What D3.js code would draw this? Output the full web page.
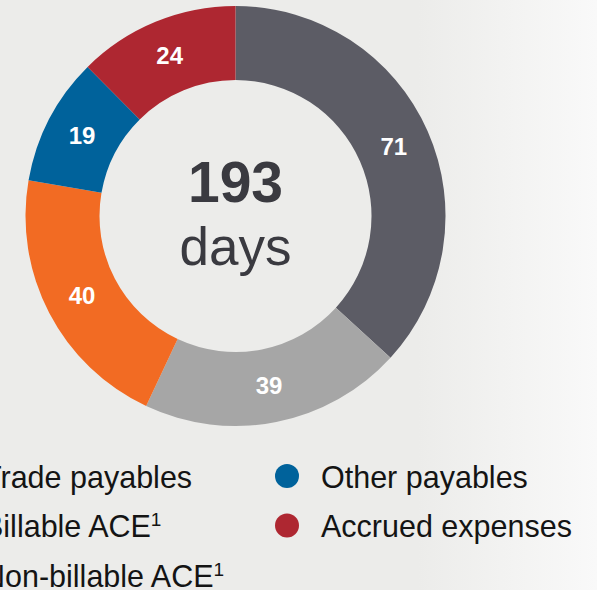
<!DOCTYPE html>
<html>
<head>
<meta charset="utf-8">
<script src="https://cdn.jsdelivr.net/npm/d3@7"></script>
<style>
  html, body { margin: 0; padding: 0; overflow: hidden; }
  svg { display: block; font-family: "Liberation Sans", Arial, sans-serif; }
</style>
</head>
<body>
<div id="chart"></div>
<script>
// data, clockwise from 12 o'clock
const categories = ['Trade payables', 'Billable ACE', 'Non-billable ACE', 'Other payables', 'Accrued expenses']
const days = [71, 39, 40, 19, 24]
const colors = ['#5c5c65', '#a6a6a6', '#f26b23', '#00629b', '#ae2731']
const footnote = [false, true, true, false, false]
const totalLabel = 'days'

const width = 597, height = 590
const cx = 235.5, cy = 216
const outerR = 210, innerR = 136

let svg = d3.select('#chart')
            .append('svg')
            .attr('width', width)
            .attr('height', height)

// soft background, a bit lighter to the right
let grad = svg.append('defs').append('linearGradient')
    .attr('id', 'bg')
    .attr('x1', '0').attr('x2', '1').attr('y1', '0').attr('y2', '0')
grad.append('stop').attr('offset', '0.7').attr('stop-color', '#ececea')
grad.append('stop').attr('offset', '1').attr('stop-color', '#f9f9f9')

svg.append('rect')
    .attr('width', width)
    .attr('height', height)
    .attr('fill', 'url(#bg)')

const data = categories.map((c, i) => ({ name: c, value: days[i], color: colors[i], sup: footnote[i] }))

let pie = d3.pie().value(d => d.value).sort(null)
let arc = d3.arc().innerRadius(innerR).outerRadius(outerR)

let g = svg.append('g').attr('transform', `translate(${cx},${cy})`)

g.selectAll('path')
    .data(pie(data))
    .join('path')
    .attr('d', arc)
    .attr('fill', d => d.data.color)

g.selectAll('text.val')
    .data(pie(data))
    .join('text')
    .attr('class', 'val')
    .attr('x', d => arc.centroid(d)[0])
    .attr('y', d => arc.centroid(d)[1])
    .attr('dy', '0.35em')
    .attr('text-anchor', 'middle')
    .attr('fill', '#fff')
    .attr('font-weight', 'bold')
    .attr('font-size', 24)
    .text(d => d.data.value)

// total in the middle
g.append('text')
    .attr('y', -14)
    .attr('text-anchor', 'middle')
    .attr('fill', '#3a3a40')
    .attr('font-weight', 'bold')
    .attr('font-size', 57)
    .text(d3.sum(days))

g.append('text')
    .attr('y', 49)
    .attr('text-anchor', 'middle')
    .attr('fill', '#3a3a40')
    .attr('font-size', 53)
    .text(totalLabel)

// legend, two columns (left one runs off the edge)
let cols = [{ x: -51, items: data.slice(0, 3) }, { x: 287, items: data.slice(3) }]
cols.forEach(col => {
    let rows = svg.append('g').selectAll('g')
        .data(col.items)
        .join('g')
        .attr('transform', (d, i) => `translate(${col.x},${476 + i * 49.5})`)
    rows.append('circle')
        .attr('r', 12)
        .attr('fill', d => d.color)
    let t = rows.append('text')
        .attr('x', 34)
        .attr('y', 11.5)
        .attr('fill', '#141414')
        .attr('font-size', 30.5)
        .text(d => d.name)
    t.filter(d => d.sup)
        .append('tspan')
        .attr('dy', -11)
        .attr('font-size', 19)
        .text('1')
})
</script>
</body>
</html>
